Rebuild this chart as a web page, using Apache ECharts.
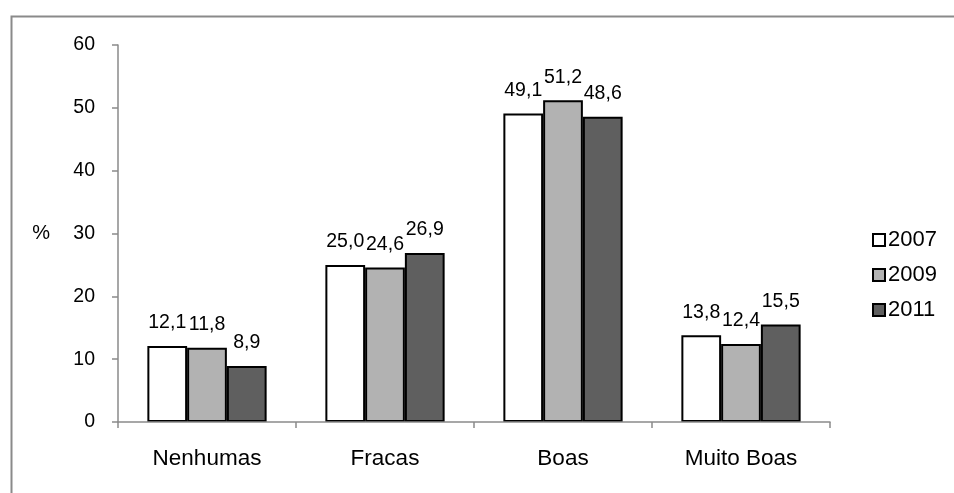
<!DOCTYPE html>
<html>
<head>
<meta charset="utf-8">
<script src="https://cdn.jsdelivr.net/npm/echarts@6/dist/echarts.min.js"></script>
<style>
html,body{margin:0;padding:0;background:#fff;}
#chart{width:954px;height:493px;}
</style>
</head>
<body>
<div id="chart"></div>
<script>
const categories = ['Nenhumas', 'Fracas', 'Boas', 'Muito Boas'];
const years = ['2007', '2009', '2011'];
const values2007 = [12.1, 25.0, 49.1, 13.8];
const values2009 = [11.8, 24.6, 51.2, 12.4];
const values2011 = [8.9, 26.9, 48.6, 15.5];
const yTicks = [0, 10, 20, 30, 40, 50, 60];

const colors = ['#ffffff', '#b2b2b2', '#5f5f5f'];
const seriesValues = [values2007, values2009, values2011];
const FONT = '"Liberation Sans", Arial, sans-serif';

const chart = echarts.init(document.getElementById('chart'));
chart.setOption({
  animation: false,
  backgroundColor: '#ffffff',
  textStyle: { fontFamily: FONT, color: '#000' },
  graphic: [{
    type: 'rect',
    left: 9, top: 14,
    shape: { x: 0, y: 0, width: 1000, height: 600 },
    style: { fill: 'none', stroke: '#8a8a8a', lineWidth: 2 },
    silent: true, z: -10
  }],
  grid: { left: 118, right: 124, top: 45, bottom: 71, containLabel: false },
  legend: {
    orient: 'vertical',
    left: 867, top: 224,
    itemWidth: 12, itemHeight: 12, itemGap: 13,
    icon: 'rect',
    textStyle: { fontFamily: FONT, fontSize: 22, color: '#000', padding: [0, 0, 0, -2] },
    data: years
  },
  xAxis: {
    type: 'category',
    data: categories,
    z: 5,
    axisLine: { lineStyle: { color: '#8a8a8a', width: 1.5 } },
    axisTick: { show: true, length: 6, inside: false, lineStyle: { color: '#8a8a8a', width: 1.5 } },
    axisLabel: { margin: 25, fontSize: 22.5, color: '#000', fontFamily: FONT },
    splitLine: { show: false }
  },
  yAxis: {
    type: 'value',
    min: yTicks[0], max: yTicks[yTicks.length - 1], interval: 10,
    name: '%',
    nameLocation: 'middle',
    nameRotate: 0,
    nameGap: 68,
    nameTextStyle: { fontSize: 20, color: '#000', fontFamily: FONT },
    axisLine: { show: true, lineStyle: { color: '#8a8a8a', width: 1.5 } },
    axisTick: { show: true, length: 6, lineStyle: { color: '#8a8a8a', width: 1.5 } },
    axisLabel: { margin: 23, fontSize: 19.5, color: '#000', fontFamily: FONT },
    splitLine: { show: false }
  },
  series: years.map((y, i) => ({
    name: y,
    type: 'bar',
    data: seriesValues[i],
    barGap: '0%',
    barCategoryGap: '33%',
    itemStyle: { color: colors[i], borderColor: '#000', borderWidth: 2 },
    label: {
      show: true,
      position: 'top',
      distance: 13,
      fontSize: 19.5,
      color: '#000',
      fontFamily: FONT,
      formatter: p => p.value.toFixed(1).replace('.', ',')
    }
  }))
});
</script>
</body>
</html>
